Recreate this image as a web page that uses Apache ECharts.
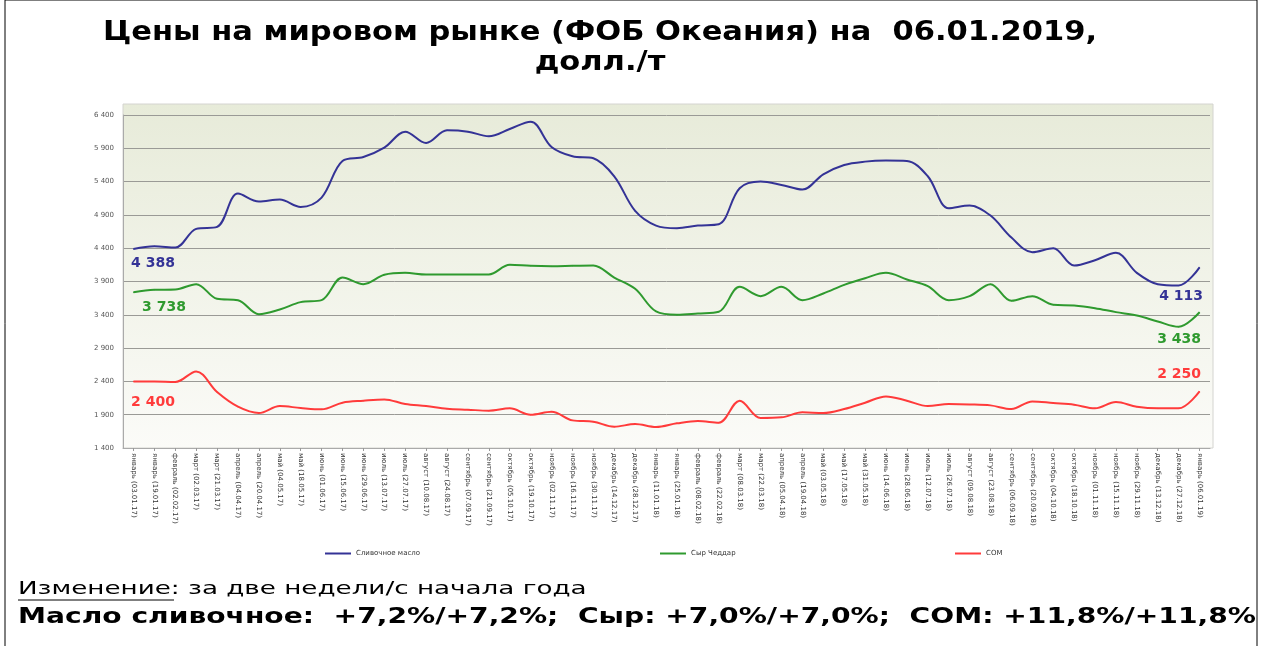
<!DOCTYPE html>
<html>
<head>
<meta charset="utf-8">
<script src="https://cdn.jsdelivr.net/npm/echarts@6/dist/echarts.min.js"></script>
<style>
html,body{margin:0;padding:0;background:#fff;}
#chart{width:1263px;height:646px;}
</style>
</head>
<body>
<div id="chart"></div>
<script>
const categories = [
"январь (03.01.17)","январь (19.01.17)","февраль (02.02.17)","март (02.03.17)","март (21.03.17)",
"апрель (04.04.17)","апрель (20.04.17)","май (04.05.17)","май (18.05.17)","июнь (01.06.17)",
"июнь (15.06.17)","июнь (29.06.17)","июль (13.07.17)","июль (27.07.17)","август (10.08.17)",
"август (24.08.17)","сентябрь (07.09.17)","сентябрь (21.09.17)","октябрь (05.10.17)","октябрь (19.10.17)",
"ноябрь (02.11.17)","ноябрь (16.11.17)","ноябрь (30.11.17)","декабрь (14.12.17)","декабрь (28.12.17)",
"январь (11.01.18)","январь (25.01.18)","февраль (08.02.18)","февраль (22.02.18)","март (08.03.18)",
"март (22.03.18)","апрель (05.04.18)","апрель (19.04.18)","май (03.05.18)","май (17.05.18)",
"май (31.05.18)","июнь (14.06.18)","июнь (28.06.18)","июль (12.07.18)","июль (26.07.18)",
"август (09.08.18)","август (23.08.18)","сентябрь (06.09.18)","сентябрь (20.09.18)","октябрь (04.10.18)",
"октябрь (18.10.18)","ноябрь (01.11.18)","ноябрь (15.11.18)","ноябрь (29.11.18)","декабрь (13.12.18)",
"декабрь (27.12.18)","январь (06.01.19)"
];
const butter = [4388,4430,4410,4690,4720,5220,5100,5130,5020,5160,
5710,5770,5910,6150,5980,6170,6150,6080,6190,6300,
5920,5780,5750,5480,4960,4740,4700,4740,4760,5300,
5400,5350,5280,5510,5650,5700,5715,5710,5480,5000,
5040,4890,4560,4340,4400,4140,4220,4330,4030,3860,
3840,4113];
const cheese = [3738,3775,3780,3860,3640,3620,3410,3480,3590,3620,
3960,3860,4000,4030,4005,4005,4005,4005,4150,4135,
4130,4135,4140,3960,3790,3450,3400,3420,3445,3820,
3680,3820,3620,3720,3850,3950,4030,3930,3830,3620,
3680,3860,3610,3680,3550,3540,3500,3440,3390,3300,
3220,3438];
const smp = [2400,2400,2390,2550,2240,2020,1925,2030,2000,1980,
2080,2110,2130,2060,2030,1990,1975,1960,1995,1900,
1945,1815,1795,1720,1760,1715,1770,1805,1780,2110,
1850,1860,1935,1925,1985,2080,2175,2110,2030,2060,
2055,2040,1985,2100,2075,2050,1995,2090,2020,1995,
1995,2250];
const seriesNames = ["Сливочное масло","Сыр Чеддар","СОМ"];
const yTicks = {min:1400, max:6400, step:500};
const titleLines = ["Цены на мировом рынке (ФОБ Океания) на  06.01.2019,", "долл./т"];
const noteLabel = "Изменение:";
const noteLine1 = "за две недели/с начала года";
const noteLine2 = "Масло сливочное:  +7,2%/+7,2%;  Сыр: +7,0%/+7,0%;  СОМ: +11,8%/+11,8%";

const colors = ["#343396","#2f9a2f","#ff3b3b"];
const fmt = v => { const s = String(Math.round(v)); return s.length>3 ? s.slice(0,-3)+' '+s.slice(-3) : s; };

function withEndLabels(arr, color, firstOff, lastOff){
  return arr.map((v,i)=>{
    if(i===0 || i===arr.length-1){
      const o = i===0?firstOff:lastOff;
      return {value:v, label:{show:true, position:[o[0], o[1]], align:'center', verticalAlign:'middle',
        formatter: p=>fmt(p.value), color:color, fontWeight:'bold', fontSize:14,
        fontFamily:'DejaVu Sans'}};
    }
    return v;
  });
}

const chart = echarts.init(document.getElementById('chart'), null, {renderer:'canvas'});
const FONT = 'DejaVu Sans';
const legendBase = {orient:'horizontal', top:545, itemWidth:26, itemHeight:2, icon:'rect',
  textStyle:{fontSize:7, color:'#333', fontFamily:FONT}};
function lineSeries(name, data, color, firstOff, lastOff){
  return {name:name, type:'line', smooth:0.35, symbol:'circle', symbolSize:1, showSymbol:true, showAllSymbol:true,
    lineStyle:{color:color, width:2}, itemStyle:{color:color},
    labelLayout:{hideOverlap:false},
    data:withEndLabels(data, color, firstOff, lastOff)};
}
chart.setOption({
  animation:false,
  backgroundColor:'#fff',
  graphic:[
    {type:'rect', z:-10, shape:{x:5,y:0,width:1252,height:660}, style:{fill:'#fff', stroke:'#000', lineWidth:1}},
    {type:'rect', z:-5, shape:{x:123,y:104,width:1090,height:344},
      style:{fill:new echarts.graphic.LinearGradient(0,0,0,1,[{offset:0,color:'#e7ebd9'},{offset:1,color:'#fbfbf8'}]),
        stroke:'#d4d4d0', lineWidth:1}},
    {type:'text', x:600, y:33, scaleX:1.13, style:{text:titleLines[0], x:0, y:0, textAlign:'center', textVerticalAlign:'middle', font:'bold 27px "DejaVu Sans"', fill:'#000'}},
    {type:'text', x:600, y:63, scaleX:1.13, style:{text:titleLines[1], x:0, y:0, textAlign:'center', textVerticalAlign:'middle', font:'bold 27px "DejaVu Sans"', fill:'#000'}},
    {type:'text', x:18, y:590, scaleX:1.54, style:{text:noteLabel+' '+noteLine1, x:0, y:0, textVerticalAlign:'middle', font:'17px "DejaVu Sans"', fill:'#000'}},
    {type:'line', shape:{x1:18,y1:600,x2:174,y2:600}, style:{stroke:'#000', lineWidth:1}},
    {type:'text', x:18, y:618, scaleX:1.34, style:{text:noteLine2, x:0, y:0, textVerticalAlign:'middle', font:'bold 21px "DejaVu Sans"', fill:'#000'}}
  ],
  legend:[
    Object.assign({}, legendBase, {left:320, data:[seriesNames[0]]}),
    Object.assign({}, legendBase, {left:655, data:[seriesNames[1]]}),
    Object.assign({}, legendBase, {left:950, data:[seriesNames[2]]})
  ],
  grid:{left:123, right:53, top:115, bottom:198, containLabel:false},
  xAxis:{type:'category', data:categories, boundaryGap:true,
    axisLine:{lineStyle:{color:'#aaa'}}, axisTick:{show:true, alignWithLabel:true, lineStyle:{color:'#999'}, length:3},
    axisLabel:{rotate:-90, interval:0, fontSize:7, color:'#333', fontFamily:FONT, margin:5}},
  yAxis:{type:'value', min:yTicks.min, max:yTicks.max, interval:yTicks.step,
    axisLine:{show:true, lineStyle:{color:'#aaa'}}, axisTick:{show:false},
    axisLabel:{fontSize:7, color:'#555', fontFamily:FONT, margin:9, formatter:v=>fmt(v)},
    splitLine:{lineStyle:{color:'#9a9a96', width:1}}},
  series:[
    lineSeries(seriesNames[0], butter, colors[0], [20,15], [-18,30]),
    lineSeries(seriesNames[1], cheese, colors[1], [31,16], [-20,28]),
    lineSeries(seriesNames[2], smp, colors[2], [20,21], [-20,-17])
  ]
});
</script>
</body>
</html>
